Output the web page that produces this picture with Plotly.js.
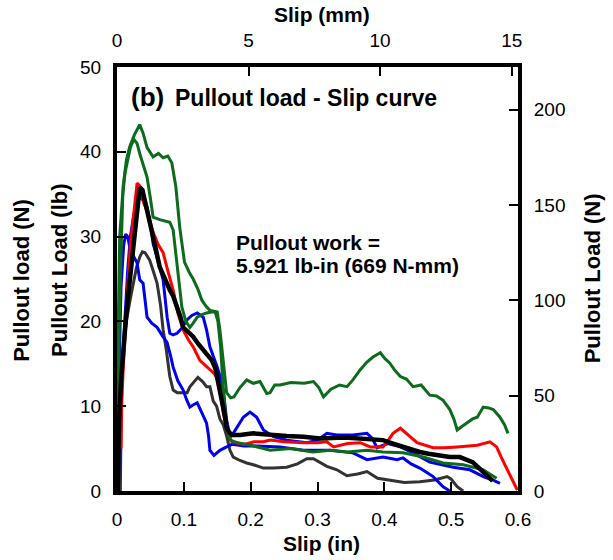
<!DOCTYPE html>
<html>
<head>
<meta charset="utf-8">
<script src="https://cdn.plot.ly/plotly-3.0.1.min.js"></script>
<style>html,body{margin:0;padding:0;background:#fff;}#chart{width:613px;height:560px;}</style>
</head>
<body>
<div id="chart"></div>
<script>
// ---- data (slip in inches, load in lb) ----
var greenAx = [0.001,0.003,0.006,0.009,0.014,0.019,0.026,0.034,0.039,0.045,0.054,0.062,0.069,0.076,0.082,0.088,0.094,0.101,0.108,0.114,0.121,0.127,0.133,0.139,0.145,0.15,0.154,0.159,0.164,0.17,0.175,0.184,0.194,0.204,0.214,0.224,0.229,0.236,0.244,0.26,0.28,0.294,0.302,0.309,0.32,0.333,0.344,0.353,0.364,0.374,0.383,0.394,0.401,0.408,0.416,0.424,0.433,0.443,0.455,0.468,0.478,0.488,0.498,0.504,0.509,0.516,0.524,0.532,0.539,0.548,0.556,0.563,0.573,0.58,0.585];
var greenAy = [0,18,28,35.8,39,40.6,42,43.2,42.2,40.5,39.4,39.8,39.3,39.5,38.7,35.9,31,27,25.8,25,23.8,22.5,21.8,21.3,21.2,21.1,19,15,11.6,11,11.1,12.2,13.1,12.7,12.9,11.5,11.6,12.5,12.5,12.8,12.7,12.9,12.2,11.1,12,12.5,12.3,13.1,14.3,15.2,15.8,16.3,15.6,15.1,14.2,13.5,13.2,12.3,12.5,11.3,11.2,10.7,9.6,8.5,7.2,7.6,8,8.5,8.7,9.9,9.8,9.6,8.7,7.8,6.8];

var greenBx = [0.001,0.002,0.004,0.008,0.012,0.016,0.02,0.025,0.03,0.034,0.04,0.045,0.05,0.054,0.064,0.072,0.079,0.084,0.088,0.092,0.097,0.103,0.109,0.114,0.12,0.127,0.134,0.141,0.147,0.151,0.155,0.159,0.164,0.169,0.18,0.2,0.229,0.26,0.293,0.319,0.345,0.374,0.398,0.428,0.458,0.488,0.518,0.548,0.568];
var greenBy = [0,20,30,34.5,37.5,39,40.5,41.5,41,39.8,38.3,37,34.5,32.3,32,31.8,31.7,30.8,28,24.9,21.7,20,19.3,19.8,20.5,20.8,21,21.1,21.1,20,17,12,7.5,6,5.7,5.4,4.8,5,4.6,4.8,4.6,4.8,4.6,4.5,4.0,3.3,3.1,2.5,1.5];

var redX = [0.006,0.007,0.009,0.012,0.016,0.02,0.025,0.03,0.034,0.04,0.045,0.054,0.062,0.069,0.076,0.084,0.091,0.099,0.107,0.114,0.124,0.132,0.139,0.146,0.151,0.155,0.159,0.166,0.172,0.177,0.19,0.205,0.219,0.229,0.25,0.279,0.3,0.314,0.324,0.345,0.364,0.379,0.398,0.406,0.413,0.424,0.433,0.449,0.473,0.49,0.509,0.525,0.539,0.558,0.568,0.576,0.584,0.592,0.599];
var redY = [5,10,14,19,24,29,33,36.3,36,34,33,30.5,29,28.1,26,23.7,21,19,17.8,17,15.4,14.8,14.3,13.8,13.1,11.5,9.2,6.8,5.8,5.7,5.5,5.8,5.8,6.0,5.8,5.7,5.7,5.8,5.2,5.6,5.7,5.2,5.2,6.0,6.8,7.4,6.8,5.7,5.1,5.1,5.2,5.3,5.4,5.8,5.2,3.8,2.5,1.3,0.1];

var blackX = [0.001,0.003,0.006,0.009,0.013,0.016,0.02,0.024,0.028,0.031,0.034,0.038,0.042,0.045,0.05,0.054,0.059,0.064,0.07,0.075,0.079,0.084,0.09,0.095,0.099,0.106,0.114,0.121,0.129,0.136,0.142,0.147,0.151,0.154,0.157,0.161,0.164,0.168,0.172,0.184,0.204,0.229,0.254,0.279,0.304,0.34,0.374,0.398,0.413,0.428,0.44,0.453,0.466,0.479,0.498,0.513,0.524,0.532,0.539,0.548,0.558,0.562];
var blackY = [0,8,13,16.6,20,22.5,25.5,28.4,31.5,34.3,35.8,35.5,34.2,32.8,31.2,30,28.2,26.4,25.2,24.5,23.7,23,21.7,20.5,19.3,18.7,18.2,17.4,16.6,16,15.4,14.5,13.1,12,10.7,9,7.5,6.9,6.6,6.6,6.8,6.6,6.5,6.4,6.2,6.3,6.2,6.0,5.6,5.2,4.9,4.6,4.4,4.2,4.0,4.0,3.7,3.4,2.9,2.3,1.5,1.2];

var blueAx = [0.001,0.003,0.006,0.01,0.013,0.016,0.019,0.024,0.03,0.034,0.039,0.045,0.052,0.06,0.068,0.075,0.08,0.084,0.091,0.099,0.104,0.109,0.115,0.12,0.127,0.134,0.137,0.139,0.145,0.154,0.164,0.172,0.19,0.21,0.244,0.279,0.319,0.353,0.374,0.398,0.419,0.428,0.44,0.453,0.463,0.473,0.488,0.498];
var blueAy = [0,14,24,29,30.3,30,28.8,27.8,26.9,24.9,24.5,20.5,19.8,19.3,18.3,17.5,16,14.6,13,11.9,10.8,9.9,10.2,10.4,9.2,8,6.5,4.8,4.2,4.8,5.2,5.5,5.3,5.3,5.2,4.8,4.8,4.5,3.7,4.0,3.7,3.9,3.2,2.7,2.2,1.7,0.5,0];

var blueBx = [0.002,0.004,0.008,0.012,0.016,0.02,0.025,0.03,0.034,0.039,0.045,0.05,0.054,0.06,0.065,0.069,0.075,0.079,0.084,0.09,0.097,0.105,0.112,0.12,0.129,0.134,0.139,0.145,0.15,0.155,0.159,0.164,0.169,0.174,0.182,0.189,0.199,0.209,0.219,0.234,0.254,0.284,0.3,0.314,0.329,0.353,0.374,0.382,0.389,0.405,0.424,0.443,0.468,0.503,0.528,0.548,0.562,0.573];
var blueBy = [0,8,15,21,26,30,32.5,34,34.7,34.3,33.5,31.5,29.2,27.5,26.2,24.9,20.5,18.6,18.4,18.6,19.2,20.2,20.7,21,20.5,19,17,15.8,14.6,13.3,11.9,8.4,6.4,6.8,7.8,8.7,9.3,8.7,7.2,6.4,6.0,5.7,6.0,6.8,6.6,6.6,6.8,6.2,5.1,5.6,5.2,4.5,3.4,2.8,2.5,1.7,1.3,0.9];

var grayX = [0.005,0.007,0.011,0.015,0.02,0.024,0.029,0.034,0.038,0.042,0.046,0.049,0.054,0.06,0.065,0.069,0.074,0.079,0.084,0.09,0.094,0.099,0.105,0.109,0.115,0.121,0.128,0.134,0.139,0.144,0.149,0.154,0.159,0.164,0.169,0.174,0.184,0.194,0.204,0.219,0.234,0.254,0.27,0.284,0.294,0.304,0.314,0.329,0.344,0.36,0.374,0.39,0.408,0.43,0.453,0.475,0.494,0.5,0.509,0.518];
var grayY = [0,14.6,18,20.5,22.7,24.5,26.3,27.6,28.2,28.1,27.6,27.2,26,24.5,22,19,16.5,13.5,11.9,11.6,11.6,11.6,11.6,12.3,12.9,13.4,12.9,12.3,12.3,10.6,10,8.5,7.8,6.5,4.8,4.0,3.6,3.3,3.1,2.7,2.7,2.8,3.2,3.8,3.8,3.3,2.9,2.5,1.8,2.0,2.3,1.5,1.3,1.0,1.1,1.3,1.7,1.4,0.5,0];

// axis ticks
var inTicks = [0,0.1,0.2,0.3,0.4,0.5,0.6];
var mmTicks = [0,5,10,15];
var lbTicks = [0,10,20,30,40,50];
var nTicks = [0,50,100,150,200];
var IN_TO_MM = 25.4, LB_TO_N = 4.448;

var FONT = 'Liberation Sans, Arial, sans-serif';
function tr(x, y, color, w) {
  return {x: x, y: y, type: 'scatter', mode: 'lines', line: {color: color, width: w}, hoverinfo: 'skip', showlegend: false};
}
var data = [
  tr(grayX, grayY, '#333333', 3),
  tr(blueAx, blueAy, '#0000ee', 3),
  tr(blueBx, blueBy, '#0000ee', 3),
  tr(redX, redY, '#ff0000', 3),
  tr(greenBx, greenBy, '#0d6b1c', 3),
  tr(greenAx, greenAy, '#0d6b1c', 3),
  tr(blackX, blackY, '#000000', 4.5),
  {x: [], y: [], xaxis: 'x2', yaxis: 'y2', type: 'scatter', mode: 'lines', showlegend: false, hoverinfo: 'skip'}
];

var axCommon = {
  showgrid: false, zeroline: false, showline: true, linecolor: '#000', linewidth: 4,
  ticks: 'inside', ticklen: 9, tickwidth: 2, tickcolor: '#000',
  tickfont: {family: FONT, size: 19, color: '#000'}, fixedrange: true
};
function ax(extra) { return Object.assign({}, axCommon, extra); }

var xmax = 0.6, ymax = 50;
var layout = {
  width: 613, height: 560,
  margin: {l: 117, r: 95, t: 67, b: 69, pad: 0},
  paper_bgcolor: '#fff', plot_bgcolor: '#fff',
  showlegend: false,
  xaxis: ax({range: [0, xmax], tickvals: inTicks, ticktext: inTicks.map(String), ticklabelstandoff: 8}),
  yaxis: ax({range: [0, ymax], tickvals: lbTicks, ticktext: lbTicks.map(String), ticklabelstandoff: 8}),
  xaxis2: ax({range: [0, xmax * IN_TO_MM], overlaying: 'x', side: 'top', anchor: 'y', tickvals: mmTicks, ticktext: mmTicks.map(String), ticklabelstandoff: 8}),
  yaxis2: ax({range: [0, ymax * LB_TO_N], overlaying: 'y', side: 'right', anchor: 'x', tickvals: nTicks, ticktext: nTicks.map(String), ticklabelstandoff: 8}),
  annotations: [
    {text: '<b>(b)</b>', xref: 'paper', yref: 'paper', x: 0.029, y: 0.929, xanchor: 'left', yanchor: 'middle', showarrow: false, font: {family: FONT, size: 26, color: '#000'}},
    {text: '<b>Pullout load - Slip curve</b>', xref: 'paper', yref: 'paper', x: 0.139, y: 0.927, xanchor: 'left', yanchor: 'middle', showarrow: false, font: {family: FONT, size: 23, color: '#000'}},
    {text: '<b>Pullout work =</b>', xref: 'paper', yref: 'paper', x: 0.2916, y: 0.585, xanchor: 'left', yanchor: 'middle', showarrow: false, font: {family: FONT, size: 21, color: '#000'}},
    {text: '<b>5.921 lb-in (669 N-mm)</b>', xref: 'paper', yref: 'paper', x: 0.2916, y: 0.531, xanchor: 'left', yanchor: 'middle', showarrow: false, font: {family: FONT, size: 21, color: '#000'}},
    {text: '<b>Slip (in)</b>', xref: 'paper', yref: 'paper', x: 0.511, y: -0.123, xanchor: 'center', yanchor: 'middle', showarrow: false, font: {family: FONT, size: 21, color: '#000'}},
    {text: '<b>Slip (mm)</b>', xref: 'paper', yref: 'paper', x: 0.511, y: 1.123, xanchor: 'center', yanchor: 'middle', showarrow: false, font: {family: FONT, size: 21, color: '#000'}},
    {text: '<b>Pullout load (N)</b>', xref: 'paper', yref: 'paper', x: -0.237, y: 0.498, xanchor: 'center', yanchor: 'middle', textangle: -90, showarrow: false, font: {family: FONT, size: 22, color: '#000'}},
    {text: '<b>Pullout Load (lb)</b>', xref: 'paper', yref: 'paper', x: -0.145, y: 0.521, xanchor: 'center', yanchor: 'middle', textangle: -90, showarrow: false, font: {family: FONT, size: 22, color: '#000'}},
    {text: '<b>Pullout Load (N)</b>', xref: 'paper', yref: 'paper', x: 1.185, y: 0.502, xanchor: 'center', yanchor: 'middle', textangle: -90, showarrow: false, font: {family: FONT, size: 22, color: '#000'}}
  ]
};
Plotly.newPlot('chart', data, layout, {staticPlot: true, displayModeBar: false});
</script>
</body>
</html>
